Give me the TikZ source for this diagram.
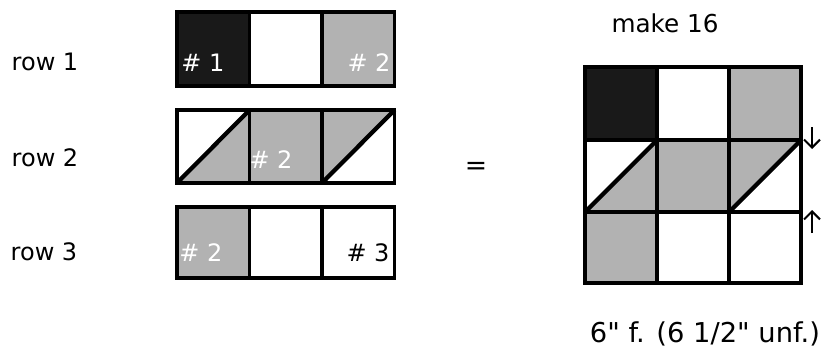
\documentclass[tikz,border=0pt]{standalone}
\usepackage{fontspec}
\setmainfont{DejaVu Sans}
\usetikzlibrary{arrows.meta}

\begin{document}
\begin{tikzpicture}[x=0.75pt, y=-0.75pt,
    patch/.style={line width=2.4pt},
    seam/.style={line width=3.2pt},
    lbl/.style={font=\fontsize{18}{21}\selectfont},
    tag/.style={font=\fontsize{18}{21}\selectfont, white},
    pointer/.style={line width=1.5pt, -{Straight Barb[length=6pt, width=12pt]}}]
    \useasboundingbox (0,0) rectangle (830,351);

    %% Row labels
    \node[lbl] (r1) at (45,62)  {row 1};
    \node[lbl] (r2) at (45,158) {row 2};
    \node[lbl] (r3) at (44,252) {row 3};

    %% Row 1
    \fill[black!90] (177,12) rectangle (249.5,86);
    \fill[gray!60]  (322,12) rectangle (394.5,86);
    \draw[patch] (177,12) rectangle (394.5,86);
    \draw[patch] (249.5,12) -- (249.5,86);
    \draw[patch] (322,12) -- (322,86);
    \node[tag] (a1) at (203,63) {\# 1};
    \node[tag] (a2) at (369,63) {\# 2};

    %% Row 2
    \fill[gray!60] (177,183) -- (249.5,110) -- (249.5,183) -- cycle;
    \fill[gray!60] (249.5,110) rectangle (322,183);
    \fill[gray!60] (322,110) -- (394.5,110) -- (322,183) -- cycle;
    \draw[patch] (177,110) rectangle (394.5,183);
    \draw[patch] (249.5,110) -- (249.5,183);
    \draw[patch] (322,110) -- (322,183);
    \draw[seam] (177,183) -- (249.5,110);
    \draw[seam] (322,183) -- (394.5,110);
    \node[tag] (b2) at (271,160) {\# 2};

    %% Row 3
    \fill[gray!60] (177,207) rectangle (249.5,278);
    \draw[patch] (177,207) rectangle (394.5,278);
    \draw[patch] (249.5,207) -- (249.5,278);
    \draw[patch] (322,207) -- (322,278);
    \node[tag] (c1) at (201,253) {\# 2};
    \node[lbl] (c3) at (368,253) {\# 3};

    %% Equals
    \node[lbl, font=\fontsize{20}{24}\selectfont] (eq) at (476,168) {=};

    %% Finished block
    \node[lbl, font=\fontsize{18.5}{22}\selectfont] (make) at (665,23) {make 16};
    \fill[black!90] (585,67) rectangle (657,140);
    \fill[gray!60]  (729,67) rectangle (801,140);
    \fill[gray!60] (585,212) -- (657,140) -- (657,212) -- cycle;
    \fill[gray!60] (657,140) rectangle (729,212);
    \fill[gray!60] (729,140) -- (801,140) -- (729,212) -- cycle;
    \fill[gray!60] (585,212) rectangle (657,283);
    \draw[patch] (585,67) rectangle (801,283);
    \draw[patch] (657,67) -- (657,283);
    \draw[patch] (729,67) -- (729,283);
    \draw[patch] (585,140) -- (801,140);
    \draw[patch] (585,212) -- (801,212);
    \draw[seam] (585,212) -- (657,140);
    \draw[seam] (729,212) -- (801,140);

    %% Seam pointers
    \coordinate (dnA) at (812,127);
    \coordinate (dnB) at (812,149);
    \coordinate (upA) at (812,233);
    \coordinate (upB) at (812,210);
    \draw[pointer] (dnA) -- (dnB);
    \draw[pointer] (upA) -- (upB);

    %% Size
    \node[lbl, font=\fontsize{20.5}{24}\selectfont] (size) at (705,334)
        {6\textquotedbl{} f. (6 1/2\textquotedbl{} unf.)};
\end{tikzpicture}
\end{document}
